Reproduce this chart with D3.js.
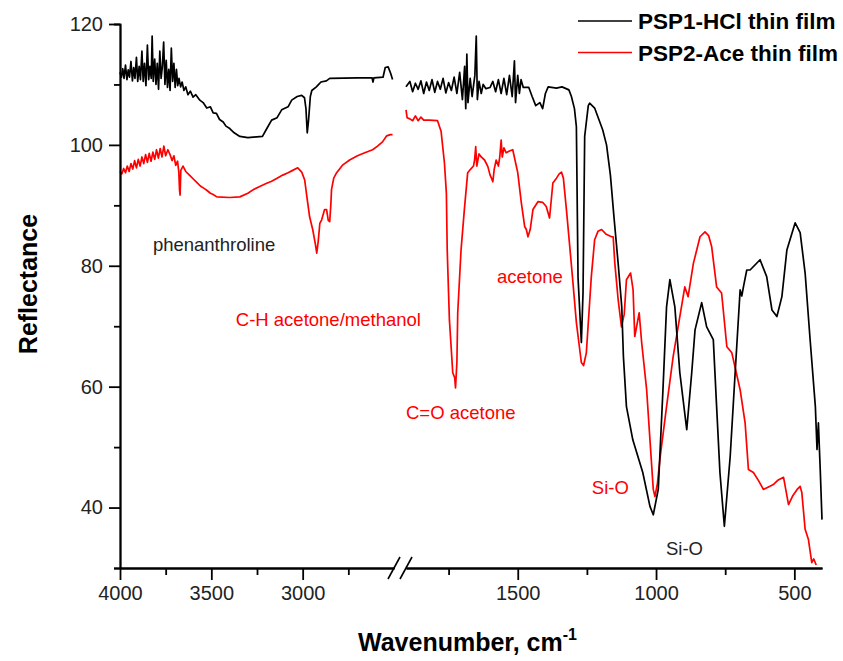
<!DOCTYPE html>
<html>
<head>
<meta charset="utf-8">
<script src="https://cdn.jsdelivr.net/npm/d3@7"></script>
<style>
  body { margin: 0; background: #fff; }
  text { font-family: 'Liberation Sans', Arial, sans-serif; }
</style>
</head>
<body>
<svg id="chart" width="843" height="661"></svg>
<script>
// spectra: [wavenumber cm-1, reflectance]
const psp1Left = [
  [4000,112],[3992,111.2],[3985,112.6],[3978,111],[3970,113.2],[3962,110.8],[3955,112.4],
  [3948,111.2],[3940,113.8],[3932,110.6],[3925,112.8],[3918,111],[3910,114.5],[3903,110.5],
  [3895,113],[3888,110.8],[3880,115.5],[3873,110.5],[3866,113.5],[3858,109.8],[3850,116.5],
  [3843,110.8],[3836,113],[3829,111],[3824,118],[3818,110.5],[3810,114.2],[3803,110],
  [3796,113.5],[3789,109.2],[3782,115.5],[3775,111],[3768,113],[3761,117],[3754,110],
  [3747,114],[3740,109.5],[3733,112.5],[3726,109],[3719,116],[3712,110.5],[3705,113.5],
  [3698,109.5],[3691,112.5],[3684,109.8],[3677,111],[3668,109.6],[3660,110.4],[3650,109],
  [3640,109.6],[3628,108.3],[3615,108.9],[3600,107.9],[3585,108.3],[3563,107.4],[3545,107],
  [3525,106.1],[3505,106.3],[3490,105.3],[3472,105.2],[3455,104.2],[3435,103.8],[3420,103.1],
  [3399,102.7],[3375,102],[3344,101.4],[3300,101.2],[3220,101.4],[3200,102.5],[3170,104.1],
  [3140,104.5],[3115,105.8],[3080,106.3],[3060,107.4],[3030,108],[3005,108.2],[2990,107.8],
  [2982,106],[2975,102],[2968,104],[2958,108],[2950,109],[2925,109.6],[2900,110.4],
  [2870,110.6],[2852,111],[2700,111.1],[2620,111.1],[2615,110.4],[2610,111.1],[2560,111.2],
  [2548,112.8],[2532,112.9],[2518,111.8],[2508,110.8]
];

const psp1Right = [
  [1904,109.6],[1890,110.5],[1880,108.8],[1870,110.2],[1860,109.2],[1850,110.6],[1840,108.5],
  [1830,110.4],[1820,109],[1810,110.8],[1800,108.7],[1790,110.5],[1780,109.2],[1770,111],
  [1760,108.6],[1750,110.3],[1740,109],[1730,111.2],[1720,108.5],[1710,112],[1700,107.5],
  [1692,113],[1688,106],[1684,115],[1680,107],[1672,111],[1665,108],[1655,111.5],[1650,118],
  [1646,107.5],[1640,110.5],[1632,108.5],[1625,110],[1615,109.3],[1600,109.5],[1590,110.5],
  [1580,108.8],[1570,110.8],[1560,108.5],[1550,111],[1540,108.3],[1530,111.5],[1520,108],
  [1512,113.9],[1508,107],[1500,111.5],[1494,108.5],[1488,110.8],[1480,109.5],[1460,109.5],
  [1448,108],[1435,106.5],[1420,107],[1410,106],[1400,108.5],[1390,109.6],[1360,109.4],
  [1340,109.6],[1315,109.1],[1306,108],[1295,106],[1288,103],[1282,78],[1270,67.3],
  [1264,75.5],[1258,101.4],[1245,106.5],[1240,106.9],[1222,106.1],[1193,102.5],[1179,100],
  [1165,95],[1152,88],[1137,80.4],[1124,73.2],[1118,65],[1107,56.7],[1084,51.2],[1048,45.8],
  [1022,40.2],[1010,38.8],[992,43],[975,59.5],[962,73.2],[950,77.7],[932,73.2],[914,62.3],
  [889,52.9],[871,62.3],[859,69.4],[835,73.9],[817,69.9],[793,67.8],[781,56.7],[769,45.8],
  [753,36.9],[732,48.4],[714,62.3],[696,76],[690,75],[684,76.5],[672,79.3],[660,79.3],
  [624,81],[600,78.2],[581,72.7],[563,71.6],[545,74.9],[527,82.6],[497,87.1],[479,85.5],
  [461,78.8],[443,67.8],[424,56.7],[418,49.6],[413,54],[406,45.8],[400,38]
];

const psp2Left = [
  [4000,95.6],[3990,95.2],[3980,96.1],[3970,95.4],[3960,96.5],[3950,95.6],[3940,96.9],
  [3930,96],[3920,97.4],[3910,96.2],[3900,97.6],[3890,96.5],[3880,98],[3870,96.9],[3860,98.4],
  [3850,97.1],[3840,98.6],[3830,97.3],[3820,98.8],[3810,97.6],[3800,99.2],[3790,97.8],
  [3780,99.4],[3770,98],[3760,99.8],[3750,98.2],[3738,99.2],[3725,98.3],[3715,97.4],
  [3705,98.2],[3695,96.6],[3685,97.3],[3678,95.5],[3674,92.5],[3671,91.7],[3667,95.8],
  [3655,96.5],[3640,95.6],[3620,95],[3600,94.4],[3580,93.8],[3560,93.2],[3540,92.8],
  [3525,92.5],[3505,92],[3490,91.8],[3470,91.4],[3400,91.3],[3344,91.4],[3300,92],
  [3270,92.6],[3235,93.1],[3200,93.6],[3170,94],[3140,94.5],[3109,95],[3080,95.4],
  [3060,95.7],[3027,96.2],[3005,95.5],[2989,94.2],[2975,91],[2962,88.1],[2945,86],
  [2930,83.5],[2923,82.1],[2915,84],[2906,87],[2896,87.6],[2880,89.3],[2869,89.3],
  [2860,87.5],[2852,87.3],[2846,90],[2842,92.6],[2830,94.5],[2814,95.4],[2780,96.7],
  [2743,97.5],[2700,98.2],[2660,98.7],[2617,99.2],[2590,99.8],[2563,100.5],[2540,101.5],
  [2520,101.7],[2508,101.7]
];

const psp2Right = [
  [1904,105.8],[1900,104.5],[1890,104.3],[1880,104],[1870,104.8],[1860,104],[1850,104.6],
  [1840,104.1],[1820,104.1],[1790,104],[1777,102.2],[1765,97],[1758,92],[1755,82.6],[1747,71],
  [1740,66],[1735,62.3],[1728,61.5],[1725,59.8],[1720,64],[1717,72.2],[1705,82.6],[1693,89.3],
  [1681,95.4],[1670,96],[1660,96.5],[1656,97.5],[1652,99.7],[1648,96.5],[1640,98.5],[1632,98],
  [1620,97.5],[1608,96.4],[1600,95],[1595,94.5],[1590,93.9],[1585,96],[1578,97.5],[1570,96.5],
  [1565,98],[1560,100.8],[1556,98],[1550,99.5],[1542,98.7],[1530,99],[1518,99.2],[1500,95.4],
  [1487,90.4],[1475,86.5],[1469,86],[1463,84.8],[1455,86],[1445,89.3],[1427,90.6],[1410,90.5],
  [1397,89.8],[1385,87.9],[1373,93.7],[1360,94.5],[1350,95.2],[1342,95.5],[1335,94.5],
  [1324,89.3],[1312,83.2],[1300,77],[1288,70.6],[1270,64],[1262,63.5],[1252,65.6],[1234,78.2],
  [1222,84.3],[1210,85.7],[1197,86],[1180,85.2],[1161,84.8],[1155,84.8],[1149,80.4],
  [1137,74.4],[1125,69.9],[1115,72],[1107,77.7],[1092,78.8],[1083,76],[1077,68.3],[1070,70],
  [1061,72.2],[1052,67.3],[1034,59.5],[1022,51.2],[1010,43],[1004,41.8],[995,44],[985,48.4],
  [962,56.7],[938,65],[914,71.6],[896,76.5],[884,74.9],[865,80.4],[841,84.8],[823,85.6],
  [810,85],[799,83.2],[781,76.5],[763,75.5],[744,66.6],[726,65.6],[696,59.5],[678,54],
  [666,46.3],[648,45.8],[630,44.5],[612,43],[590,43.5],[576,43.8],[560,44.5],[539,45],
  [521,40.5],[505,42],[490,43],[479,43.5],[473,42.5],[461,36.4],[449,34.7],[437,30.9],
  [430,31.5],[421,30.5]
];

const seriesNames = ['PSP1-HCl thin film', 'PSP2-Ace thin film'];
const seriesColors = ['#000000', '#ff0000'];

const leftTicks = [4000, 3500, 3000];
const leftMinor = [3750, 3250, 2750];
const rightTicks = [1500, 1000, 500];
const rightMinor = [1750, 1250, 750];
const yTicks = [40, 60, 80, 100, 120];
const yMinor = [30, 50, 70, 90, 110];

// band labels: [text, wavenumber, reflectance, series index]
const bandLabels = [
  ['phenanthroline', 3820, 82.5, 0],
  ['C-H acetone/methanol', 3366, 70.1, 1],
  ['C=O acetone', 1904, 54.7, 1],
  ['acetone', 1575, 77.2, 1],
  ['Si-O', 1232, 42.3, 1],
  ['Si-O', 964, 32.2, 0]
];

const svg = d3.select('#chart');

// broken x axis: two linear pieces
const xL = d3.scaleLinear().domain([4000, 2500]).range([120, 394]);
const xR = d3.scaleLinear().domain([1904, 400]).range([406, 822]);
const y = d3.scaleLinear().domain([30, 120]).range([568, 24]);
const xAny = (w) => w > 2200 ? xL(w) : xR(w);
const fmt = d3.format('d');

// curves
const line = (xs) => d3.line().x(d => xs(d[0])).y(d => y(d[1]));
const curves = [
  [psp2Left, xL, 1], [psp2Right, xR, 1],
  [psp1Left, xL, 0], [psp1Right, xR, 0]
];
svg.selectAll('path.spec')
  .data(curves)
  .enter()
  .append('path')
  .attr('class', 'spec')
  .attr('fill', 'none')
  .attr('stroke', d => seriesColors[d[2]])
  .attr('stroke-width', 1.7)
  .attr('stroke-linejoin', 'round')
  .attr('d', d => line(d[1])(d[0]));

// y axis
const yAxis = svg.append('g').attr('transform', 'translate(120,0)')
  .call(d3.axisLeft(y).tickValues(yTicks).tickFormat(fmt).tickSize(11).tickPadding(6).tickSizeOuter(0));
yAxis.append('g')
  .call(d3.axisLeft(y).tickValues(yMinor).tickSize(6).tickFormat(''));

// x axis, two pieces
const xAxisL = svg.append('g').attr('transform', 'translate(0,568)')
  .call(d3.axisBottom(xL).tickValues(leftTicks).tickFormat(fmt).tickSize(12).tickPadding(6).tickSizeOuter(0));
xAxisL.append('g').call(d3.axisBottom(xL).tickValues(leftMinor).tickSize(7).tickFormat('').tickSizeOuter(0));
const xAxisR = svg.append('g').attr('transform', 'translate(0,568)')
  .call(d3.axisBottom(xR).tickValues(rightTicks).tickFormat(fmt).tickSize(12).tickPadding(6).tickSizeOuter(0));
xAxisR.append('g').call(d3.axisBottom(xR).tickValues(rightMinor).tickSize(7).tickFormat('').tickSizeOuter(0));

svg.selectAll('.domain, .tick line')
  .attr('stroke', '#000')
  .attr('stroke-width', 1.8);
svg.selectAll('.tick text')
  .attr('fill', '#222')
  .style('font-size', '20px')
  .style('font-family', "'Liberation Sans', Arial, sans-serif");

// break marks
const brk = svg.append('g').attr('stroke', '#000').attr('stroke-width', 1.6);
[394, 406].forEach(bx => {
  brk.append('line')
    .attr('x1', bx - 6).attr('y1', 579)
    .attr('x2', bx + 6).attr('y2', 557);
});

// axis titles
svg.append('text')
  .attr('transform', 'translate(37,284) rotate(-90)')
  .attr('text-anchor', 'middle')
  .style('font-size', '25px')
  .style('font-weight', 'bold')
  .text('Reflectance');

const xt = svg.append('text')
  .attr('x', 358)
  .attr('y', 651)
  .style('font-size', '25px')
  .style('font-weight', 'bold');
xt.append('tspan').text('Wavenumber, cm');
xt.append('tspan').attr('dy', -11).style('font-size', '16px').text('-1');

// band labels
svg.selectAll('text.band')
  .data(bandLabels)
  .enter()
  .append('text')
  .attr('class', 'band')
  .attr('x', d => xAny(d[1]))
  .attr('y', d => y(d[2]))
  .attr('fill', d => d[3] === 0 ? '#222' : '#ff0000')
  .style('font-size', '18.5px')
  .text(d => d[0]);

// legend
const legend = svg.selectAll('g.legend')
  .data(seriesNames)
  .enter()
  .append('g')
  .attr('class', 'legend')
  .attr('transform', (d, i) => `translate(578,${21 + i * 31.5})`);
legend.append('line')
  .attr('x1', 0).attr('x2', 54)
  .attr('stroke', (d, i) => seriesColors[i])
  .attr('stroke-width', 1.6);
legend.append('text')
  .attr('x', 60)
  .attr('y', 8)
  .style('font-size', '22.5px')
  .style('font-weight', 'bold')
  .text(d => d);
</script>
</body>
</html>
